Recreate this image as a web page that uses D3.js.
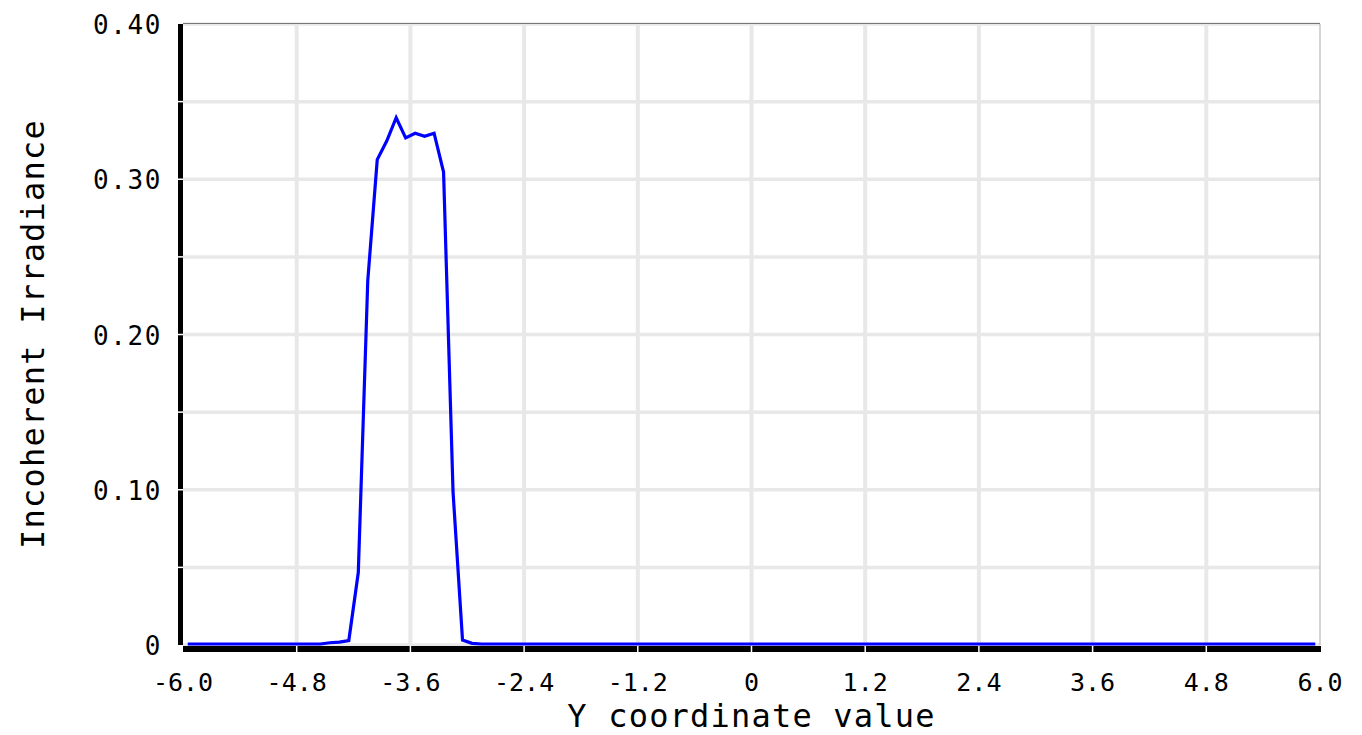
<!DOCTYPE html>
<html>
<head>
<meta charset="utf-8">
<script src="https://cdn.jsdelivr.net/npm/d3@7"></script>
<style>
  body { margin: 0; background: #fff; }
  text { font-family: "DejaVu Sans Mono", monospace; fill: #000; }
  .tickLabel { font-size: 25px; }
  .yTickLabel { font-size: 26px; letter-spacing: 1.6px; }
  .axisLabel { font-size: 32px; letter-spacing: 1.2px; }
</style>
</head>
<body>
<div id="chart"></div>
<script>
// Irradiance profile, sampled at bin centres (-5.95 .. 5.95, step 0.1)
var peakX = [-4.55, -4.45, -4.35, -4.25, -4.15, -4.05, -3.95, -3.85, -3.75, -3.65,
             -3.55, -3.45, -3.35, -3.25, -3.15, -3.05, -2.95];
var peakY = [0.0, 0.0008, 0.0012, 0.0022, 0.046, 0.234, 0.312, 0.324, 0.339, 0.326,
             0.329, 0.327, 0.329, 0.304, 0.098, 0.0025, 0.0004];
var xTicks = [-6.0, -4.8, -3.6, -2.4, -1.2, 0, 1.2, 2.4, 3.6, 4.8, 6.0];
var xTickLabels = ["-6.0", "-4.8", "-3.6", "-2.4", "-1.2", "0", "1.2", "2.4", "3.6", "4.8", "6.0"];
var yTicks = [0, 0.1, 0.2, 0.3, 0.4];
var yTickLabels = ["0", "0.10", "0.20", "0.30", "0.40"];
var yMinor = [0.05, 0.15, 0.25, 0.35];

// full sample list: zeros outside the peak
var samples = [];
for (var k = 0; k < 120; k++) {
  var xv = Math.round((-5.95 + k * 0.1) * 100) / 100;
  var idx = peakX.indexOf(xv);
  samples.push({x: xv, y: idx >= 0 ? peakY[idx] : 0});
}

var W = 1362, H = 735;
var margin = {top: 24, right: 42, bottom: 90, left: 183};
var width = W - margin.left - margin.right;
var height = H - margin.top - margin.bottom;

var svg = d3.select("#chart").append("svg")
  .attr("width", W).attr("height", H);

var g = svg.append("g")
  .attr("transform", "translate(" + margin.left + "," + margin.top + ")");

var xScale = d3.scaleLinear().domain([-6, 6]).range([0, width]);
var yScale = d3.scaleLinear().domain([0, 0.4]).range([height, 0]);

// grid lines
g.selectAll(".hgrid")
  .data(yTicks.concat(yMinor))
  .enter().append("line")
  .attr("x1", 0).attr("x2", width)
  .attr("y1", function(d) { return yScale(d); })
  .attr("y2", function(d) { return yScale(d); })
  .style("stroke", "#e8e8e8").style("stroke-width", 3.5);

g.selectAll(".vgrid")
  .data(xTicks.slice(1, -1))
  .enter().append("line")
  .attr("x1", function(d) { return xScale(d); })
  .attr("x2", function(d) { return xScale(d); })
  .attr("y1", 0).attr("y2", height)
  .style("stroke", "#e8e8e8").style("stroke-width", 4);

// top and right frame
g.append("line").attr("x1", 0).attr("x2", width).attr("y1", -0.5).attr("y2", -0.5)
  .style("stroke", "#777").style("stroke-width", 1);
g.append("line").attr("x1", width).attr("x2", width).attr("y1", 0).attr("y2", height)
  .style("stroke", "#aaa").style("stroke-width", 1);

// data line
var line = d3.line()
  .x(function(d) { return xScale(d.x); })
  .y(function(d) { return yScale(d.y) - 1; });

g.append("path")
  .datum(samples)
  .attr("d", line)
  .style("fill", "none")
  .style("stroke", "#0000ff")
  .style("stroke-width", 3.2)
  .style("stroke-linejoin", "miter");

// thick axis bars
g.append("rect").attr("x", -5).attr("y", 0).attr("width", 5).attr("height", height)
  .style("fill", "#000");
g.append("rect").attr("x", 0).attr("y", height + 1).attr("width", width + 1).attr("height", 6)
  .style("fill", "#000");

// white tick marks cutting the bars
g.selectAll(".ytickmark")
  .data(yTicks.concat(yMinor).filter(function(d) { return d > 0 && d < 0.4; }))
  .enter().append("line")
  .attr("x1", -6).attr("x2", 0)
  .attr("y1", function(d) { return yScale(d); })
  .attr("y2", function(d) { return yScale(d); })
  .style("stroke", "#fff").style("stroke-width", 1.5);

g.selectAll(".xtickmark")
  .data(xTicks.slice(1, -1))
  .enter().append("line")
  .attr("x1", function(d) { return xScale(d); })
  .attr("x2", function(d) { return xScale(d); })
  .attr("y1", height + 1).attr("y2", height + 7)
  .style("stroke", "#fff").style("stroke-width", 1.5);

// tick labels
g.selectAll(".xlab")
  .data(xTicks)
  .enter().append("text")
  .attr("class", "tickLabel")
  .attr("x", function(d) { return xScale(d); })
  .attr("y", height + 37)
  .attr("dy", "0.35em")
  .style("text-anchor", "middle")
  .text(function(d, i) { return xTickLabels[i]; });

g.selectAll(".ylab")
  .data(yTicks)
  .enter().append("text")
  .attr("class", "yTickLabel")
  .attr("x", -21)
  .attr("y", function(d) { return yScale(d) + 1; })
  .attr("dy", "0.35em")
  .style("text-anchor", "end")
  .text(function(d, i) { return yTickLabels[i]; });

// axis titles
svg.append("text")
  .attr("class", "axisLabel")
  .attr("x", margin.left + width / 2)
  .attr("y", 727)
  .style("text-anchor", "middle")
  .text("Y coordinate value");

svg.append("text")
  .attr("class", "axisLabel")
  .attr("transform", "translate(33," + 334 + ") rotate(-90)")
  .attr("dy", "0.35em")
  .style("text-anchor", "middle")
  .text("Incoherent Irradiance");
</script>
</body>
</html>
